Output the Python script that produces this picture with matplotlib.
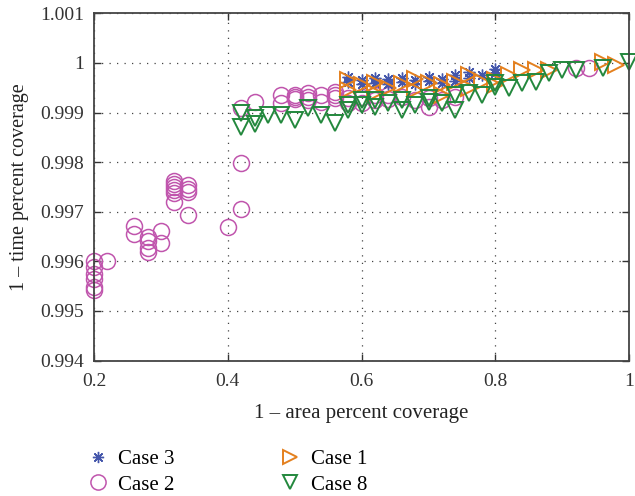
import matplotlib
matplotlib.use("Agg")
import matplotlib.pyplot as plt
from matplotlib.ticker import FormatStrFormatter, MultipleLocator

plt.rcParams["font.family"] = ["Liberation Serif", "DejaVu Serif"]

# Case 2 (circulos)
x_case2 = [0.2, 0.2, 0.2, 0.2, 0.2, 0.2, 0.22, 0.26, 0.26, 0.28, 0.28, 0.28, 0.28,
           0.3, 0.3, 0.32, 0.32, 0.32, 0.32, 0.32, 0.32, 0.34, 0.34, 0.34, 0.34,
           0.4, 0.42, 0.42, 0.42, 0.44, 0.48, 0.48, 0.5, 0.5, 0.5, 0.52, 0.52, 0.52,
           0.54, 0.54, 0.56, 0.56, 0.56, 0.58, 0.58, 0.6, 0.6, 0.62, 0.62, 0.64, 0.64,
           0.66, 0.68, 0.7, 0.7, 0.72, 0.74, 0.92, 0.94]
y_case2 = [0.99600, 0.99588, 0.99575, 0.99565, 0.99548, 0.99543, 0.99600, 0.99672, 0.99655,
           0.99649, 0.99641, 0.99627, 0.99619, 0.99661, 0.99637, 0.99763, 0.99757, 0.99750,
           0.99744, 0.99738, 0.99720, 0.99754, 0.99746, 0.99740, 0.99694, 0.99669, 0.99799,
           0.99706, 0.99909, 0.99922, 0.99936, 0.99920, 0.99935, 0.99928, 0.99932, 0.99940,
           0.99932, 0.99925, 0.99936, 0.99922, 0.99941, 0.99935, 0.99930, 0.99920, 0.99930,
           0.99920, 0.99932, 0.99935, 0.99926, 0.99936, 0.99928, 0.99932, 0.99926, 0.99911,
           0.99930, 0.99925, 0.99932, 0.99990, 0.99990]

# Case 3 (asteriscos)
x_case3 = [0.58, 0.58, 0.6, 0.6, 0.62, 0.62, 0.64, 0.64, 0.66, 0.66, 0.68, 0.68, 0.7, 0.7,
           0.72, 0.72, 0.74, 0.74, 0.76, 0.76, 0.78, 0.8, 0.8]
y_case3 = [0.99972, 0.99962, 0.99958, 0.99965, 0.99970, 0.99960, 0.99968, 0.99958, 0.99970,
           0.99962, 0.99966, 0.99958, 0.99972, 0.99963, 0.99968, 0.99960, 0.99975, 0.99964,
           0.99982, 0.99970, 0.99975, 0.99988, 0.99980]

# Case 1 (triangulos para a direita)
x_case1 = [0.58, 0.58, 0.6, 0.62, 0.62, 0.64, 0.66, 0.68, 0.68, 0.7, 0.72, 0.72, 0.74, 0.76,
           0.76, 0.78, 0.8, 0.8, 0.82, 0.84, 0.86, 0.88, 0.96, 0.98]
y_case1 = [0.99966, 0.99945, 0.99955, 0.99960, 0.99940, 0.99950, 0.99958, 0.99968, 0.99945,
           0.99960, 0.99955, 0.99935, 0.99962, 0.99975, 0.99950, 0.99962, 0.99966, 0.99955,
           0.99975, 0.99986, 0.99986, 0.99985, 1.00002, 0.99996]

# Case 8 (triangulos para baixo)
x_case8 = [0.42, 0.42, 0.44, 0.44, 0.46, 0.48, 0.5, 0.52, 0.54, 0.56, 0.58, 0.58, 0.6, 0.6,
           0.62, 0.62, 0.64, 0.66, 0.66, 0.68, 0.7, 0.7, 0.72, 0.74, 0.74, 0.76, 0.78, 0.8,
           0.8, 0.82, 0.84, 0.86, 0.88, 0.9, 0.92, 0.96, 1.0]
y_case8 = [0.99900, 0.99870, 0.99890, 0.99877, 0.99895, 0.99895, 0.99885, 0.99910, 0.99895,
           0.99880, 0.99916, 0.99905, 0.99925, 0.99915, 0.99926, 0.99912, 0.99920, 0.99905,
           0.99925, 0.99915, 0.99921, 0.99930, 0.99920, 0.99905, 0.99935, 0.99940, 0.99936,
           0.99960, 0.99952, 0.99950, 0.99960, 0.99962, 0.99980, 0.99985, 0.99985, 0.99989,
           1.00001]

fig = plt.figure(figsize=(6.35, 4.96), dpi=100)
ax = fig.add_axes([0.148, 0.273, 0.843, 0.700])

c2 = ax.plot(x_case2, y_case2, "o", ms=11.5, mfc="none", mec="#c055ad", mew=1.1,
             clip_on=False, label="Case 2")[0]
c3 = ax.plot(x_case3, y_case3, marker=(8, 2, 0), ls="none", ms=8.5, mec="#4456ab", mew=1.0,
             clip_on=False, label="Case 3")[0]
c1 = ax.plot(x_case1, y_case1, ">", ms=11, mfc="none", mec="#e4801e", mew=1.4,
             clip_on=False, label="Case 1")[0]
c8 = ax.plot(x_case8, y_case8, "v", ms=11, mfc="none", mec="#23883d", mew=1.4,
             clip_on=False, label="Case 8")[0]

ax.set_xlim(0.2, 1.0)
ax.set_ylim(0.994, 1.001)
ax.xaxis.set_major_locator(MultipleLocator(0.2))
ax.yaxis.set_major_locator(MultipleLocator(0.001))
ax.xaxis.set_major_formatter(FormatStrFormatter("%g"))
ax.yaxis.set_major_formatter(FormatStrFormatter("%g"))
ax.grid(True, color="#444444", linestyle=(0, (1, 5)), linewidth=0.9)
ax.tick_params(direction="in", length=5, width=1, colors="#333333", labelsize=14,
               top=True, right=True)
ax.tick_params(axis="x", pad=9)
ax.tick_params(axis="y", pad=7)
for s in ax.spines.values():
    s.set_color("#444444")
    s.set_linewidth(1.3)

ax.set_xlabel("1 \u2013 area percent coverage", fontsize=15, color="#222222", labelpad=10)
ax.set_ylabel("1 \u2013 time percent coverage", fontsize=14.5, color="#222222", labelpad=8)

fig.legend([c3, c2, c1, c8], ["Case 3", "Case 2", "Case 1", "Case 8"], ncol=2,
           loc="upper left", bbox_to_anchor=(0.106, 0.132), frameon=False, fontsize=15,
           handletextpad=0.45, columnspacing=5.0, labelspacing=0.3, handlelength=1.1,
           markerscale=0.95)

fig.savefig("out.png", dpi=100)
